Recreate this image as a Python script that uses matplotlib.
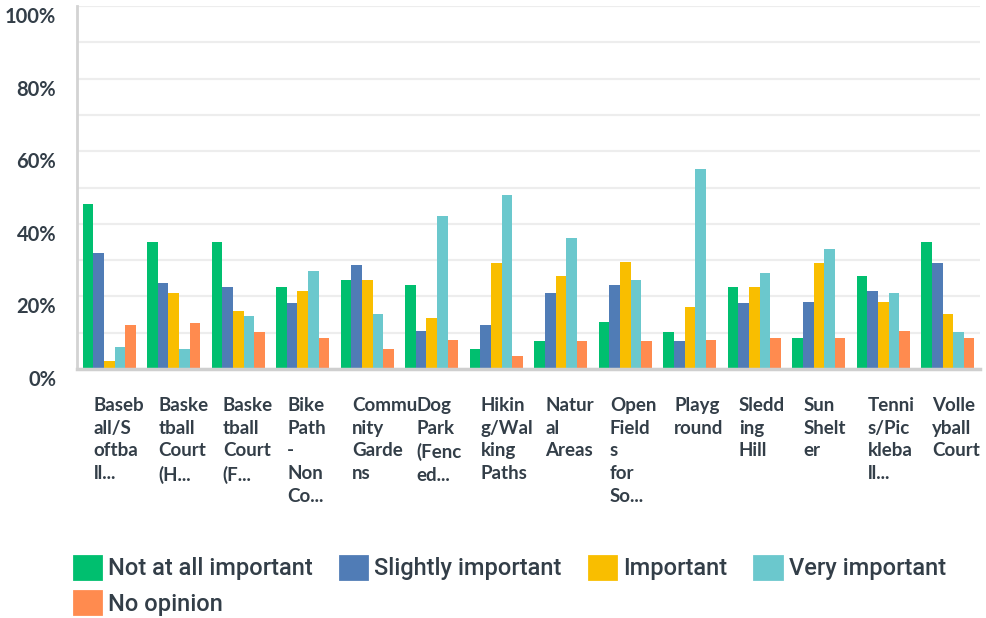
import numpy as np
import matplotlib
matplotlib.use("Agg")
import matplotlib.pyplot as plt
from matplotlib.transforms import ScaledTranslation
from matplotlib.patches import Patch

categories = [
    "Baseb\nall/S\noftba\nll...", "Baske\ntball\nCourt\n(H...", "Baske\ntball\nCourt\n(F...",
    "Bike\nPath\n-\nNon\nCo...", "Commu\nnity\nGarde\nns", "Dog\nPark\n(Fenc\ned...",
    "Hikin\ng/Wal\nking\nPaths", "Natur\nal\nAreas", "Open\nField\ns\nfor\nSo...",
    "Playg\nround", "Sledd\ning\nHill", "Sun\nShelt\ner", "Tenni\ns/Pic\nkleba\nll...",
    "Volle\nyball\nCourt",
]
series_names = ["Not at all important", "Slightly important", "Important",
                "Very important", "No opinion"]
not_at_all = [45.5, 35.0, 35.0, 22.6, 24.5, 23.2, 5.5, 7.7, 13.0, 10.2, 22.6, 8.5, 25.6, 35.0]
slightly = [32.0, 23.7, 22.6, 18.2, 28.7, 10.5, 12.1, 21.0, 23.2, 7.7, 18.2, 18.5, 21.5, 29.2]
important = [2.2, 21.0, 16.0, 21.5, 24.5, 14.1, 29.2, 25.6, 29.5, 17.1, 22.6, 29.2, 18.5, 15.2]
very = [6.1, 5.5, 14.6, 27.0, 15.2, 42.2, 48.0, 36.1, 24.5, 55.1, 26.5, 33.1, 21.0, 10.2]
no_opinion = [12.1, 12.7, 10.2, 8.5, 5.5, 8.0, 3.6, 7.7, 7.7, 8.0, 8.5, 8.5, 10.5, 8.5]
colors = ["#00bf6f", "#507cb6", "#f9be00", "#6bc8cd", "#ff8b4f"]

text_col = "#333e48"

fig = plt.figure(figsize=(9.87, 6.18), dpi=100)
ax = fig.add_axes([0.078, 0.403, 0.915, 0.587])

x = np.arange(len(categories))
values = [not_at_all, slightly, important, very, no_opinion]
w = 0.164
for i, (vals, c) in enumerate(zip(values, colors)):
    ax.bar(x + (i - 2) * w, vals, width=w, color=c, zorder=3)

ax.set_xlim(-0.5, len(categories) - 0.5)
ax.set_ylim(0, 100)
ax.set_yticks(range(0, 101, 20))
ax.set_yticks(range(0, 101, 10), minor=True)
ax.set_yticklabels([f"{v}%" for v in range(0, 101, 20)])
ax.grid(axis="y", which="both", color="#ededed", linewidth=1.6, zorder=0)
ax.tick_params(axis="y", which="both", length=0, pad=15, labelsize=14.5, labelcolor=text_col)
for lab in ax.get_yticklabels():
    lab.set_fontfamily("Lato")
    lab.set_fontweight("bold")
    lab.set_transform(lab.get_transform() + ScaledTranslation(0, -0.09, fig.dpi_scale_trans))

ax.set_xticks(x - 0.24)
ax.set_xticklabels(categories, ha="left", va="top", linespacing=1.42,
                   fontsize=13.5, fontweight="bold", color=text_col, family="Lato")
ax.tick_params(axis="x", length=0, pad=20)

for s in ["top", "right"]:
    ax.spines[s].set_visible(False)
ax.spines["left"].set_color("#d3d3d3")
ax.spines["left"].set_linewidth(2)
ax.spines["bottom"].set_color("#cfcfcf")
ax.spines["bottom"].set_linewidth(2.5)
ax.spines["bottom"].set_zorder(4)

handles = [Patch(facecolor=c, edgecolor=c, linewidth=2, joinstyle="round", label=n)
           for c, n in zip(colors, series_names)]
order = [0, 4, 1, 2, 3]
leg = fig.legend([handles[i] for i in order], [series_names[i] for i in order],
                 ncol=4, loc="upper left", bbox_to_anchor=(0.075, 0.101),
                 frameon=False, handlelength=1.15, handleheight=1.15, handletextpad=0.3,
                 columnspacing=1.15, labelspacing=0.45, borderaxespad=0, borderpad=0,
                 prop={"family": "Roboto", "size": 17, "weight": "medium"})
for t in leg.get_texts():
    t.set_color(text_col)

fig.savefig("out.png", dpi=100)
